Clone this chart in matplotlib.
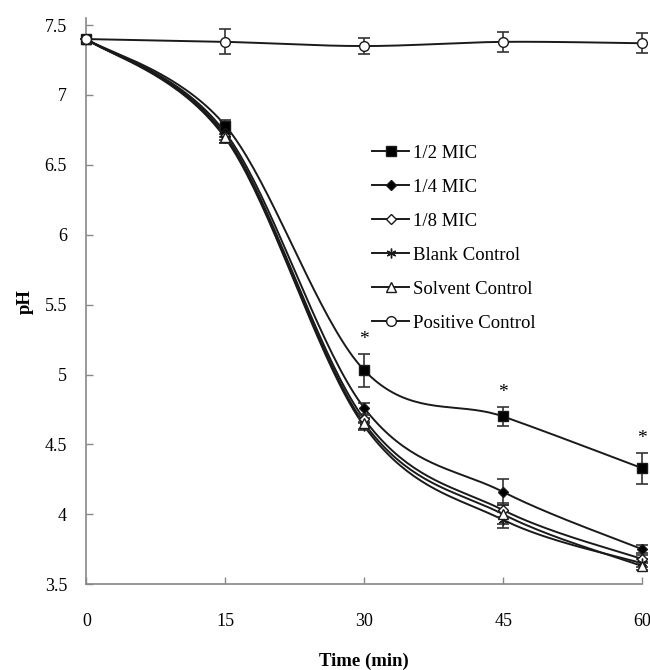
import numpy as np
import matplotlib
matplotlib.use('Agg')
import matplotlib.pyplot as plt

plt.rcParams['font.family'] = ['Liberation Serif', 'DejaVu Serif']

time = [0, 15, 30, 45, 60]
labels = ['1/2 MIC', '1/4 MIC', '1/8 MIC', 'Blank Control',
          'Solvent Control', 'Positive Control']
half_mic = [7.40, 6.78, 5.03, 4.70, 4.33]
quarter_mic = [7.40, 6.73, 4.76, 4.16, 3.75]
eighth_mic = [7.40, 6.71, 4.68, 4.03, 3.68]
blank_ctrl = [7.40, 6.69, 4.63, 3.96, 3.65]
solvent_ctrl = [7.40, 6.70, 4.65, 4.00, 3.63]
positive_ctrl = [7.40, 7.38, 7.35, 7.38, 7.37]

half_err = [0, 0.04, 0.12, 0.07, 0.11]
quarter_err = [0, 0.03, 0.04, 0.09, 0.03]
eighth_err = [0, 0.03, 0.03, 0.05, 0.03]
blank_err = [0, 0.03, 0.03, 0.06, 0.03]
solvent_err = [0, 0.04, 0.04, 0.07, 0.03]
positive_err = [0, 0.09, 0.06, 0.07, 0.07]

star_times = [30, 45, 60]


def smooth(x, y, n=40):
    # excel-like smoothed line (catmull-rom bezier)
    p = np.column_stack([x, y]).astype(float)
    pts = np.vstack([p[0], p, p[-1]])
    out = []
    t = np.linspace(0, 1, n)[:, None]
    for i in range(1, len(pts) - 2):
        p0, p1, p2, p3 = pts[i - 1], pts[i], pts[i + 1], pts[i + 2]
        b1 = p1 + (p2 - p0) / 6
        b2 = p2 - (p3 - p1) / 6
        seg = ((1 - t) ** 3 * p1 + 3 * (1 - t) ** 2 * t * b1
               + 3 * (1 - t) * t ** 2 * b2 + t ** 3 * p2)
        out.append(seg)
    out = np.vstack(out)
    return out[:, 0], out[:, 1]


fig = plt.figure(figsize=(6.5, 6.7), dpi=100)
ax = fig.add_axes([0.133, 0.128, 0.855, 0.845])

series = [
    (half_mic, half_err, dict(marker='s', mfc='black', ms=7)),
    (quarter_mic, quarter_err, dict(marker='D', mfc='black', ms=5)),
    (eighth_mic, eighth_err, dict(marker='D', mfc='white', ms=5)),
    (blank_ctrl, blank_err, dict(marker=(6, 2, 0), mfc='white', ms=7)),
    (solvent_ctrl, solvent_err, dict(marker='^', mfc='white', ms=7)),
    (positive_ctrl, positive_err, dict(marker='o', mfc='white', ms=7)),
]

for (vals, err, mk), lab in zip(series, labels):
    sx, sy = smooth(time, vals)
    ax.plot(sx, sy, color='#1a1a1a', lw=1.4, zorder=2)
    ax.errorbar(time, vals, yerr=err, fmt='none', ecolor='#333333',
                elinewidth=1.2, capsize=4, capthick=1.2, zorder=3,
                clip_on=False)
    ax.plot(time, vals, ls='none', color='#1a1a1a', mec='#1a1a1a',
            mew=1.0, zorder=4, clip_on=False, **mk)
    ax.plot([], [], color='#1a1a1a', lw=1.4, mec='#1a1a1a', mew=1.0,
            label=lab, **mk)

for t in star_times:
    i = time.index(t)
    ax.text(t, half_mic[i] + half_err[i] + 0.04, '*', ha='center',
            va='bottom', fontsize=14)

ax.set_xlim(0, 60)
ax.set_ylim(3.5, 7.55)
ax.set_xticks(time)
ax.set_yticks([3.5, 4, 4.5, 5, 5.5, 6, 6.5, 7, 7.5])
ax.set_yticklabels(['3.5', '4', '4.5', '5', '5.5', '6', '6.5', '7', '7.5'])
ax.tick_params(direction='in', length=5, width=1, color='#888888',
               labelsize=13, pad=14)
ax.tick_params(axis='x', pad=21)
for s in ['top', 'right']:
    ax.spines[s].set_visible(False)
for s in ['left', 'bottom']:
    ax.spines[s].set_color('#888888')
    ax.spines[s].set_linewidth(1.2)

ax.set_xlabel('Time (min)', fontsize=13.5, fontweight='bold', labelpad=16)
ax.set_ylabel('pH', fontsize=13.5, fontweight='bold', labelpad=8)

ax.legend(loc='upper left', bbox_to_anchor=(0.5, 0.79), frameon=False,
          fontsize=13.5, handlelength=2.0, handletextpad=0.2,
          labelspacing=0.9, borderaxespad=0)

fig.savefig('out.png', dpi=100)
